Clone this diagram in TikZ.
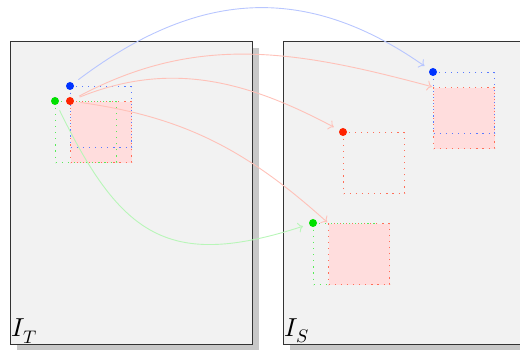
\documentclass[tikz,border=0pt]{standalone}
\usepackage{unicode-math}
\usetikzlibrary{arrows.meta, positioning, shadows}
\definecolor{cpanel}{HTML}{F2F2F2}
\definecolor{cshadow}{HTML}{C8C8C8}
\definecolor{cframe}{HTML}{333333}
\definecolor{cpatch}{HTML}{FFDDDD}
\definecolor{cblue}{HTML}{0033FF}
\definecolor{cred}{HTML}{FF2200}
\definecolor{cgreen}{HTML}{00E000}
\tikzset{
  every picture/.style={x=1pt, y=1pt, line width=0.8pt},
  panel/.style={draw=cframe, fill=cpanel, line width=1.2pt, minimum width=242pt, minimum height=303pt, inner sep=0pt, anchor=north west,
    drop shadow={shadow xshift=6pt, shadow yshift=-6pt, fill=cshadow, opacity=1}},
  patch/.style={draw=#1!65, line width=1.3pt, dash pattern=on 1.2pt off 4.9pt, minimum size=61pt, inner sep=0pt, anchor=north west},
  patch/.default=cred,
  dot/.style={circle, fill=#1, inner sep=0pt, minimum size=8pt},
  link/.style={-{To[length=5pt, width=10pt]}, draw=#1!28, line width=0.9pt, shorten >=6pt, shorten <=6pt},
  imlabel/.style={font=\fontsize{26}{28}\selectfont, anchor=south west, inner sep=1.5pt},
}

\begin{document}
\begin{tikzpicture}
  \useasboundingbox (0,0) rectangle (520,350);
  % images
  \node[panel] (imT) at (10,309) {};
  \node[panel] (imS) at (283,309) {};
  \node[imlabel] (lT) at (imT.south west) {$I_T$};
  \node[imlabel] (lS) at (imS.south west) {$I_S$};
  % patches in I_T
  \node[patch, fill=cpatch] (pT) at (70,249) {};
  \node[patch=cblue] (pTb) at (70,264) {};
  \node[patch=cgreen] (pTg) at (55,249) {};
  \node[dot=cred] (dT) at (pT.north west) {};
  \node[dot=cblue] (dTb) at (pTb.north west) {};
  \node[dot=cgreen] (dTg) at (pTg.north west) {};
  % patches in I_S
  \node[patch, fill=cpatch] (pS1) at (433,263) {};
  \node[patch=cblue] (pSb) at (433,278) {};
  \node[patch] (pS2) at (343,218) {};
  \node[patch=cgreen] (pSg) at (313,127) {};
  \node[patch, fill=cpatch] (pS3) at (328,127) {};
  \node[dot=cblue] (dSb) at (pSb.north west) {};
  \node[dot=cred] (dS2) at (pS2.north west) {};
  \node[dot=cgreen] (dSg) at (pSg.north west) {};
  % matches
  \draw[link=cblue] (dTb) to[out=37, in=145, looseness=1.1] (dSb);
  \draw[link=cred, shorten >=1pt] (dT) to[out=28, in=165] (pS1.north west);
  \draw[link=cred] (dT) to[out=22, in=152] (dS2);
  \draw[link=cred, shorten >=1pt] (dT) to[out=-8, in=138] (pS3.north west);
  \draw[link=cgreen] (dTg) to[out=-64, in=198, looseness=1.35] (dSg);
\end{tikzpicture}
\end{document}
